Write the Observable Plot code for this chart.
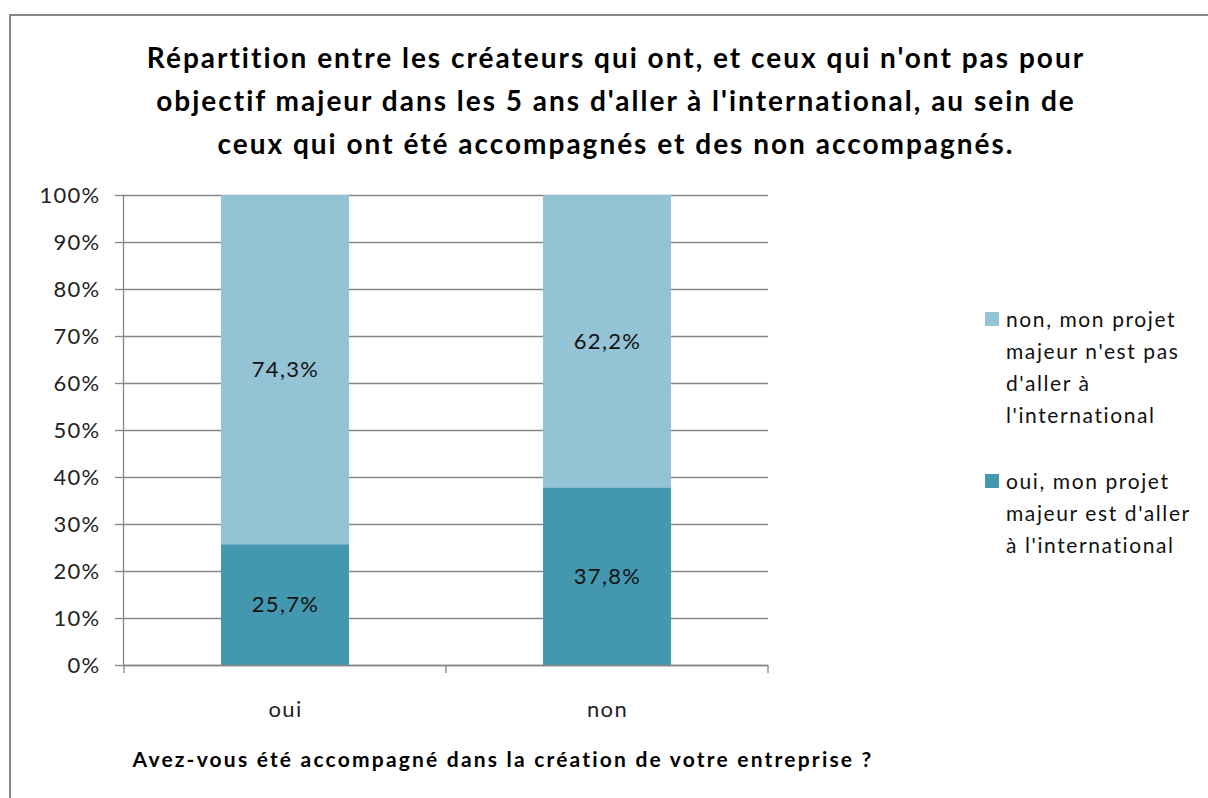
<!DOCTYPE html>
<html>
<head>
<meta charset="utf-8">
<script src="https://cdn.jsdelivr.net/npm/d3@7"></script>
<script src="https://cdn.jsdelivr.net/npm/@observablehq/plot@0.6"></script>
<style>
  html, body { margin: 0; padding: 0; background: #fff; }
  #wrap { position: relative; width: 1208px; height: 798px; overflow: hidden; font-family: Lato, "Open Sans", sans-serif; color: #000; }
  #frame { position: absolute; left: 9px; top: 14px; width: 1300px; height: 900px; border-left: 2.5px solid #868686; border-top: 2.5px solid #868686; }
  #title { position: absolute; left: 0; top: 36px; width: 1232px; text-align: center; font-weight: 700; font-size: 28px; line-height: 43px; letter-spacing: 2px; }
  #xtitle { position: absolute; left: 0; top: 746px; width: 1006px; text-align: center; font-weight: 700; font-size: 21px; letter-spacing: 2.2px; }
  #legend { position: absolute; left: 985px; top: 303px; font-size: 21px; line-height: 32px; color: #111; letter-spacing: 1.6px; }
  .item { display: flex; align-items: flex-start; margin-bottom: 34px; }
  .sw { width: 14px; height: 14px; margin-top: 9px; margin-right: 7px; flex: none; }
  #chart { position: absolute; left: 0; top: 0; }
</style>
</head>
<body>
<div id="wrap">
  <div id="frame"></div>
  <div id="chart"></div>
  <div id="title"></div>
  <div id="xtitle"></div>
  <div id="legend"></div>
</div>
<script>
const titleLines = [
  "Répartition entre les créateurs qui ont, et ceux qui n'ont pas pour",
  "objectif majeur dans les 5 ans d'aller à l'international, au sein de",
  "ceux qui ont été accompagnés et des non accompagnés."
];
const xAxisTitle = "Avez-vous été accompagné dans la création de votre entreprise ?";
const categories = ["oui", "non"];
const seriesNames = [
  "oui, mon projet majeur est d'aller à l'international",
  "non, mon projet majeur n'est pas d'aller à l'international"
];
const legendLines = [
  ["oui, mon projet", "majeur est d'aller", "à l'international"],
  ["non, mon projet", "majeur n'est pas", "d'aller à", "l'international"]
];
const seriesColors = ["#4398B0", "#93C3D5"];
const valuesOui = [25.7, 37.8];   // série "oui, ... est d'aller"
const valuesNon = [74.3, 62.2];   // série "non, ... n'est pas"
const yTicks = [0, 10, 20, 30, 40, 50, 60, 70, 80, 90, 100];

const data = [];
categories.forEach((c, i) => data.push({cat: c, series: seriesNames[0], value: valuesOui[i]}));
categories.forEach((c, i) => data.push({cat: c, series: seriesNames[1], value: valuesNon[i]}));

const fmt = v => v.toFixed(1).replace(".", ",") + "%";

const chart = Plot.plot({
  width: 1208,
  height: 798,
  marginLeft: 123,
  marginRight: 440,
  marginTop: 195,
  marginBottom: 133,
  style: {fontFamily: "Lato, 'Open Sans', sans-serif", fontSize: "22px", color: "#222", background: "transparent", letterSpacing: "1.3px"},
  x: {domain: categories, paddingInner: 0.603, paddingOuter: 0.3015, label: null},
  y: {domain: [0, 100], label: null},
  color: {domain: seriesNames, range: seriesColors},
  marks: [
    Plot.gridY(yTicks, {stroke: "#868686", strokeOpacity: 1, strokeWidth: 1.3}),
    Plot.axisY(yTicks, {tickSize: 8, tickPadding: 15, tickFormat: d => d + "%", stroke: "#868686", strokeWidth: 1.3, fontSize: 22, fill: "#222"}),
    Plot.barY(data, {x: "cat", y: "value", fill: "series", order: null}),
    Plot.text(data, Plot.stackY({x: "cat", y: "value", z: "series", order: null, text: d => fmt(d.value), fill: "#111", fontSize: 22})),
    Plot.axisX({tickSize: 0, tickPadding: 36, fontSize: 22, fill: "#222"}),
    Plot.frame({anchor: "left", stroke: "#868686", strokeWidth: 1.3}),
    Plot.ruleY([0], {stroke: "#868686", strokeWidth: 1.3})
  ]
});
document.getElementById("chart").appendChild(chart);

// category boundary tick marks on x-axis, from the library's band scale
const sx = chart.scale("x");
const sy = chart.scale("y");
const half = (sx.step - sx.bandwidth) / 2;
const bounds = [sx.apply(categories[0]) - half, ...categories.map(c => sx.apply(c) + sx.bandwidth + half)];
d3.select(chart).append("g")
  .selectAll("line").data(bounds).join("line")
  .attr("x1", d => d).attr("x2", d => d)
  .attr("y1", sy.apply(0)).attr("y2", sy.apply(0) + 8)
  .attr("stroke", "#868686").attr("stroke-width", 1.3);

document.getElementById("title").innerHTML = titleLines.join("<br>");
document.getElementById("xtitle").textContent = xAxisTitle;
const leg = document.getElementById("legend");
[1, 0].forEach(i => {
  const it = document.createElement("div");
  it.className = "item";
  const sw = document.createElement("div");
  sw.className = "sw";
  sw.style.background = seriesColors[i];
  const tx = document.createElement("div");
  tx.innerHTML = legendLines[i].join("<br>");
  it.appendChild(sw); it.appendChild(tx);
  leg.appendChild(it);
});
</script>
</body>
</html>
